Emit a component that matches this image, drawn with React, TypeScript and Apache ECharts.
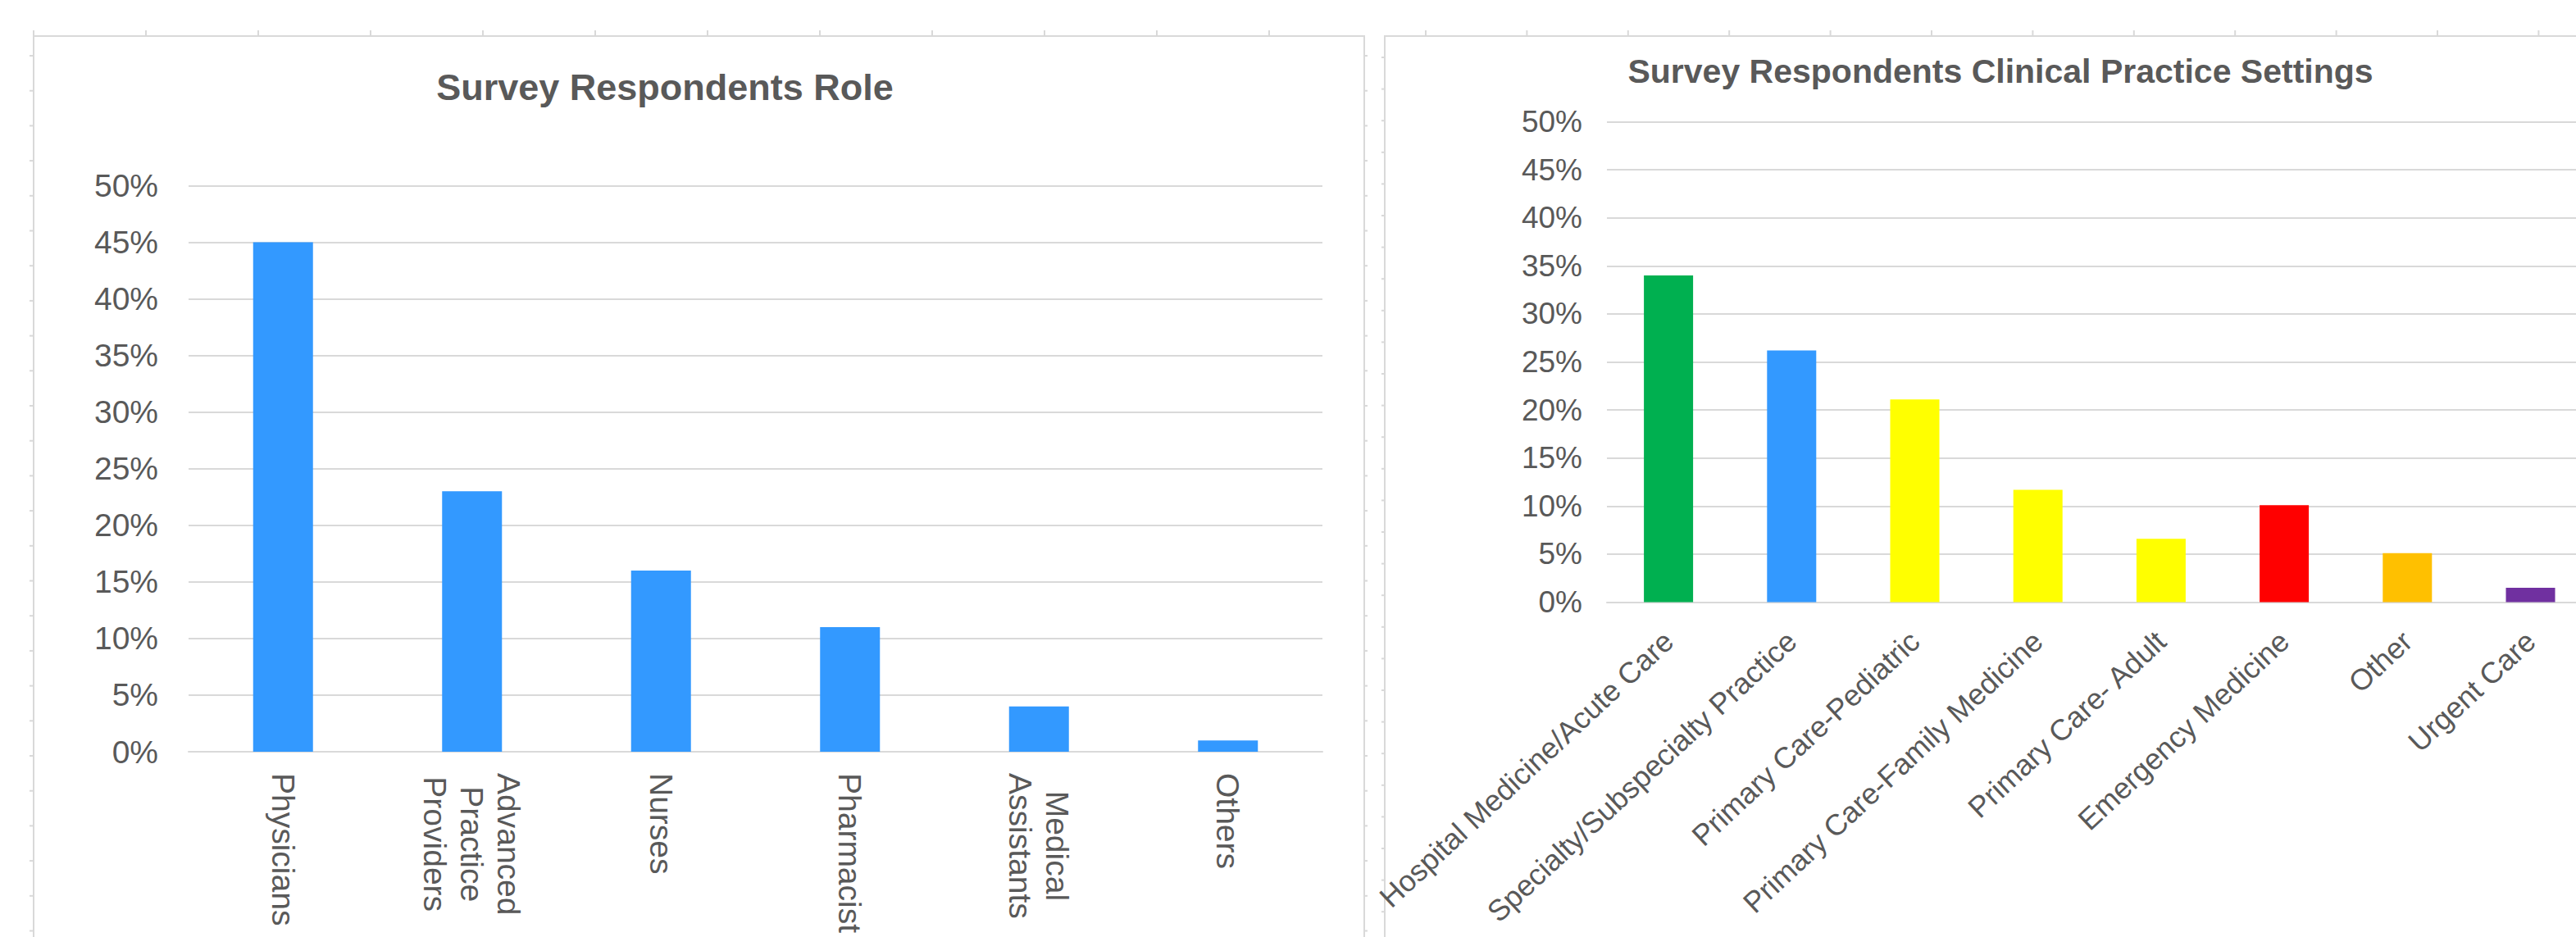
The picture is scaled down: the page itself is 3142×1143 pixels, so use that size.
import { useEffect, useRef } from "react";
import * as echarts from "echarts";

// ---- Data ----
const roleTitle = "Survey Respondents Role";
const roleCategories = [
  "Physicians",
  "Advanced\nPractice\nProviders",
  "Nurses",
  "Pharmacist",
  "Medical\nAssistants",
  "Others",
];
const roleValues = [45, 23, 16, 11, 4, 1];
const roleColor = "#3399FF";

const settingTitle = "Survey Respondents Clinical Practice Settings";
const settingCategories = [
  "Hospital Medicine/Acute Care",
  "Specialty/Subspecialty Practice",
  "Primary Care-Pediatric",
  "Primary Care-Family Medicine",
  "Primary Care- Adult",
  "Emergency Medicine",
  "Other",
  "Urgent Care",
];
const settingValues = [34, 26.2, 21.1, 11.7, 6.6, 10.1, 5.1, 1.5];
const settingColors = [
  "#00B050",
  "#3399FF",
  "#FFFF00",
  "#FFFF00",
  "#FFFF00",
  "#FF0000",
  "#FFC000",
  "#7030A0",
];

const yMax = 50;
const yInterval = 5;

const FONT = "'Liberation Sans', Arial, Helvetica, sans-serif";
const TEXT = "#595959";
const GRID = "#D9D9D9";

function buildDecor() {
  const els: any[] = [];
  const line = (x1: number, y1: number, x2: number, y2: number) => ({
    type: "line",
    silent: true,
    shape: { x1, y1, x2, y2 },
    style: { stroke: GRID, lineWidth: 2 },
  });
  // panel frames
  els.push({
    type: "rect",
    silent: true,
    shape: { x: 41, y: 44, width: 1623, height: 1200 },
    style: { fill: "none", stroke: GRID, lineWidth: 2 },
  });
  els.push({
    type: "rect",
    silent: true,
    shape: { x: 1689, y: 44, width: 1600, height: 1200 },
    style: { fill: "none", stroke: GRID, lineWidth: 2 },
  });
  // top ruler ticks
  for (let x = 41; x < 1664; x += 137) els.push(line(x, 37, x, 44));
  for (let x = 1739; x < 3142; x += 123.4) els.push(line(x, 37, x, 44));
  // side ruler ticks
  for (let y = 68; y < 1143; y += 42.7) {
    els.push(line(36, y, 41, y));
    els.push(line(1664, y, 1668, y));
  }
  for (let y = 70; y < 1143; y += 38.6) els.push(line(1685, y, 1689, y));
  return els;
}

export default function App() {
  const ref = useRef<HTMLDivElement>(null);

  useEffect(() => {
    if (!ref.current) return;
    const chart = echarts.init(ref.current, undefined, { renderer: "svg" });
    const option: any = {
      animation: false,
      backgroundColor: "#FFFFFF",
      title: [
        {
          text: roleTitle,
          left: 806,
          top: 79,
          textAlign: "center",
          textStyle: { fontFamily: FONT, fontSize: 45, fontWeight: "bold", color: TEXT },
        },
        {
          text: settingTitle,
          left: 2435,
          top: 61,
          textAlign: "center",
          textStyle: { fontFamily: FONT, fontSize: 41, fontWeight: "bold", color: TEXT },
        },
      ],
      grid: [
        { left: 230, top: 226.5, width: 1383, height: 690.5, containLabel: false, outerBoundsMode: "none" },
        { left: 1960, top: 148.5, width: 1201.6, height: 586, containLabel: false, outerBoundsMode: "none" },
      ],
      xAxis: [
        {
          type: "category",
          gridIndex: 0,
          data: roleCategories,
          axisLine: { lineStyle: { color: GRID, width: 2 } },
          axisTick: { show: false },
          axisLabel: {
            interval: 0,
            rotate: -90,
            margin: 26,
            formatter: (v: string) =>
              v
                .split("\n")
                .map((s) => `{c|${s}}`)
                .join("\n"),
            rich: {
              c: { align: "center", fontSize: 39, lineHeight: 45, fontFamily: FONT, color: TEXT },
            },
          },
        },
        {
          type: "category",
          gridIndex: 1,
          data: settingCategories,
          axisLine: { lineStyle: { color: GRID, width: 2 } },
          axisTick: { show: false },
          axisLabel: {
            interval: 0,
            rotate: 43,
            margin: 42,
            fontSize: 36,
            fontFamily: FONT,
            color: TEXT,
          },
        },
      ],
      yAxis: [
        {
          type: "value",
          gridIndex: 0,
          min: 0,
          max: yMax,
          interval: yInterval,
          axisLine: { show: false },
          axisTick: { show: false },
          splitLine: { lineStyle: { color: GRID, width: 2 } },
          axisLabel: { formatter: "{value}%", fontSize: 39, margin: 37, fontFamily: FONT, color: TEXT },
        },
        {
          type: "value",
          gridIndex: 1,
          min: 0,
          max: yMax,
          interval: yInterval,
          axisLine: { show: false },
          axisTick: { show: false },
          splitLine: { lineStyle: { color: GRID, width: 2 } },
          axisLabel: { formatter: "{value}%", fontSize: 37, margin: 30, fontFamily: FONT, color: TEXT },
        },
      ],
      series: [
        {
          type: "bar",
          xAxisIndex: 0,
          yAxisIndex: 0,
          barWidth: 73,
          itemStyle: { color: roleColor },
          data: roleValues,
        },
        {
          type: "bar",
          xAxisIndex: 1,
          yAxisIndex: 1,
          barWidth: 60,
          data: settingValues.map((v, i) => ({ value: v, itemStyle: { color: settingColors[i] } })),
        },
      ],
      graphic: buildDecor(),
    };
    chart.setOption(option);
    return () => chart.dispose();
  }, []);

  return (
    <div
      style={{
        position: "fixed",
        left: 0,
        top: 0,
        width: 3142,
        height: 1143,
        overflow: "hidden",
        background: "#FFFFFF",
      }}
    >
      <div ref={ref} style={{ width: 3200, height: 1143 }} />
    </div>
  );
}
